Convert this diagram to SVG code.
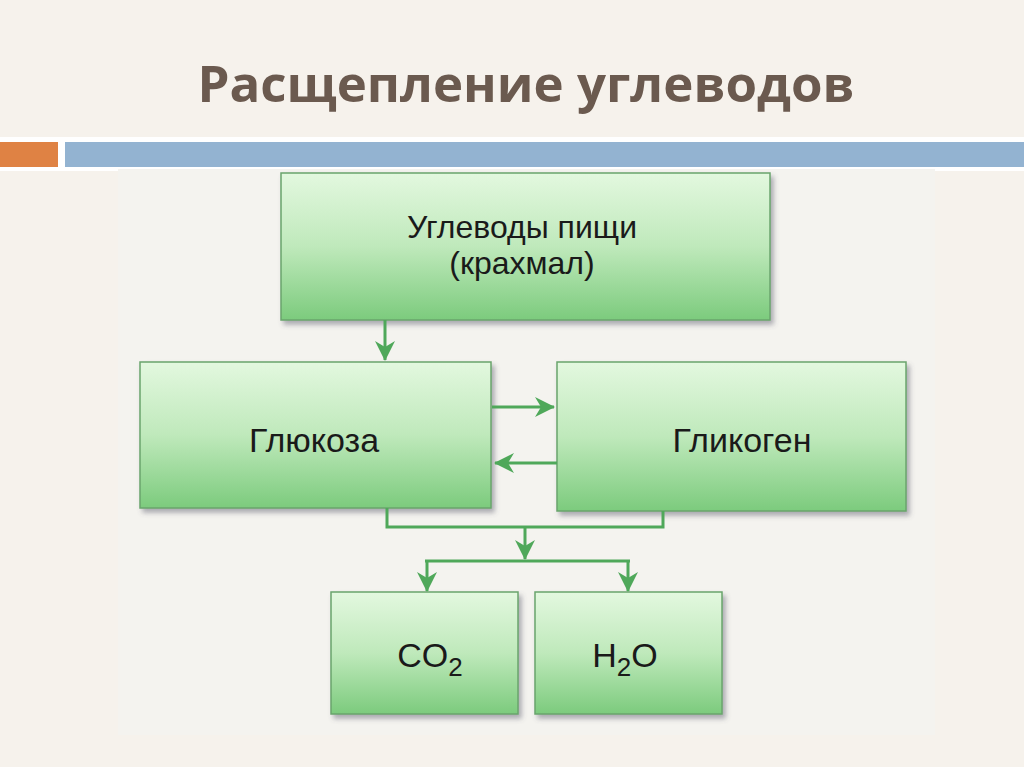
<svg xmlns="http://www.w3.org/2000/svg" width="1024" height="767" viewBox="0 0 1024 767">
<defs>
<linearGradient id="g" x1="0" y1="0" x2="0" y2="1">
<stop offset="0" stop-color="#e3f8df"/>
<stop offset="0.5" stop-color="#bfe9bb"/>
<stop offset="1" stop-color="#7ccb7d"/>
</linearGradient>
<filter id="sh" x="-5%" y="-5%" width="115%" height="120%">
<feDropShadow dx="3" dy="4" stdDeviation="2.5" flood-color="#556" flood-opacity="0.45"/>
</filter>
<marker id="ah" viewBox="0 0 20 20" refX="19" refY="10" markerWidth="20" markerHeight="20" markerUnits="userSpaceOnUse" orient="auto">
<path d="M0,0 L20,10 L0,20 L6,10 Z" fill="#4fa85a"/>
</marker>
<style>
.box{fill:url(#g);stroke:#6aa46c;stroke-width:1.5;filter:url(#sh)}
.lbl{font-family:"Liberation Sans",Arial,sans-serif;font-size:34px;fill:#1a1a1a;text-anchor:middle}
.lbl2{font-family:"Liberation Sans",Arial,sans-serif;font-size:32px;fill:#1a1a1a;text-anchor:middle}
.con{fill:none;stroke:#4fa85a;stroke-width:3}
</style>
</defs>
<rect width="1024" height="767" fill="#f6f2ec"/>
<text x="526" y="102" font-family="'Open Sans','Liberation Sans',sans-serif" font-weight="bold" font-size="51" fill="#6b5a4f" text-anchor="middle">Расщепление углеводов</text>
<rect x="0" y="137" width="1024" height="34" fill="#ffffff"/>
<rect x="0" y="142" width="58" height="25" fill="#df8244"/>
<rect x="65" y="142" width="959" height="25" fill="#93b3d1"/>
<rect x="118" y="169" width="817" height="566" fill="#f4f3ef"/>
<g id="n-food"><rect class="box" x="281" y="173" width="489" height="147"/>
<text class="lbl2" x="522" y="238">Углеводы пищи</text>
<text class="lbl2" x="522" y="274">(крахмал)</text></g>
<g id="n-glucose"><rect class="box" x="140" y="362" width="351" height="146"/>
<text class="lbl" x="314" y="452">Глюкоза</text></g>
<g id="n-glycogen"><rect class="box" x="557" y="362" width="349" height="149"/>
<text class="lbl" x="742" y="452">Гликоген</text></g>
<g id="n-co2"><rect class="box" x="331" y="592" width="187" height="122"/>
<text class="lbl" x="430" y="667">CO<tspan font-size="26" dy="9">2</tspan></text></g>
<g id="n-h2o"><rect class="box" x="535" y="592" width="187" height="122"/>
<text class="lbl" x="625" y="667">H<tspan font-size="26" dy="9">2</tspan><tspan dy="-9">O</tspan></text></g>
<g id="connectors">
<path class="con" d="M385,320 V360" marker-end="url(#ah)"/>
<path class="con" d="M492,407 H554" marker-end="url(#ah)"/>
<path class="con" d="M557,463 H495" marker-end="url(#ah)"/>
<path class="con" d="M387,508 V527 H663 V511"/>
<path class="con" d="M425,561 H630"/>
<path class="con" d="M525,527 V559" marker-end="url(#ah)"/>
<path class="con" d="M427,561 V591" marker-end="url(#ah)"/>
<path class="con" d="M628,561 V591" marker-end="url(#ah)"/>
</g>
</svg>
